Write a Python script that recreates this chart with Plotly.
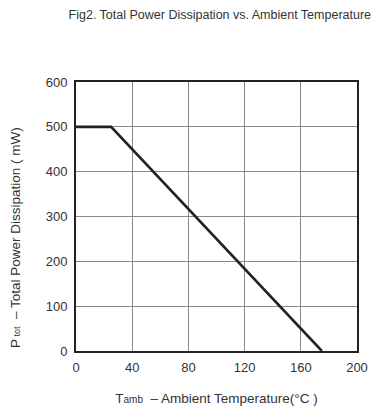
import plotly.graph_objects as go

# Derating curve: total power dissipation vs ambient temperature
temp_c = [0, 25, 175]
power_mw = [500, 500, 0]

x_ticks = [0, 40, 80, 120, 160, 200]
y_ticks = [0, 100, 200, 300, 400, 500, 600]

FONT = "Liberation Sans, Arial, sans-serif"

fig = go.Figure()
fig.add_trace(go.Scatter(
    x=temp_c, y=power_mw, mode="lines",
    line=dict(color="#222222", width=2.6),
    showlegend=False, hoverinfo="skip",
))

fig.update_layout(
    width=379, height=409,
    margin=dict(l=76, r=22, t=82, b=58),
    paper_bgcolor="white", plot_bgcolor="white",
    font=dict(family=FONT, color="#333333", size=13),
    title=dict(
        text="Fig2. Total Power Dissipation vs. Ambient Temperature",
        x=0.58, xanchor="center", y=0.965, yanchor="middle",
        font=dict(size=12.5, color="#333333"),
    ),
    xaxis=dict(
        range=[0, 200], tickvals=x_ticks, ticks="",
        ticklabelstandoff=3, automargin=False,
        showgrid=True, gridcolor="#8a8a8a", gridwidth=1,
        showline=True, linecolor="#222222", linewidth=2, mirror=True,
        zeroline=False, tickfont=dict(size=13),
        title=dict(text="T<span style='font-size:10px'>amb</span>  – Ambient Temperature(°C )",
                   font=dict(size=13.5), standoff=20),
    ),
    yaxis=dict(
        range=[0, 600], tickvals=y_ticks, ticks="",
        ticklabelstandoff=4,
        showgrid=True, gridcolor="#8a8a8a", gridwidth=1,
        showline=True, linecolor="#222222", linewidth=2, mirror=True,
        zeroline=False, tickfont=dict(size=13),
    ),
    annotations=[dict(
        text="P<span style='font-size:9px'> tot</span>  – Total Power Dissipation ( mW)",
        xref="paper", yref="paper", x=-0.217, y=0.42,
        xanchor="center", yanchor="middle", textangle=-90,
        showarrow=False, font=dict(size=13.5, color="#333333"),
    )],
)

fig.write_html("out.html")
